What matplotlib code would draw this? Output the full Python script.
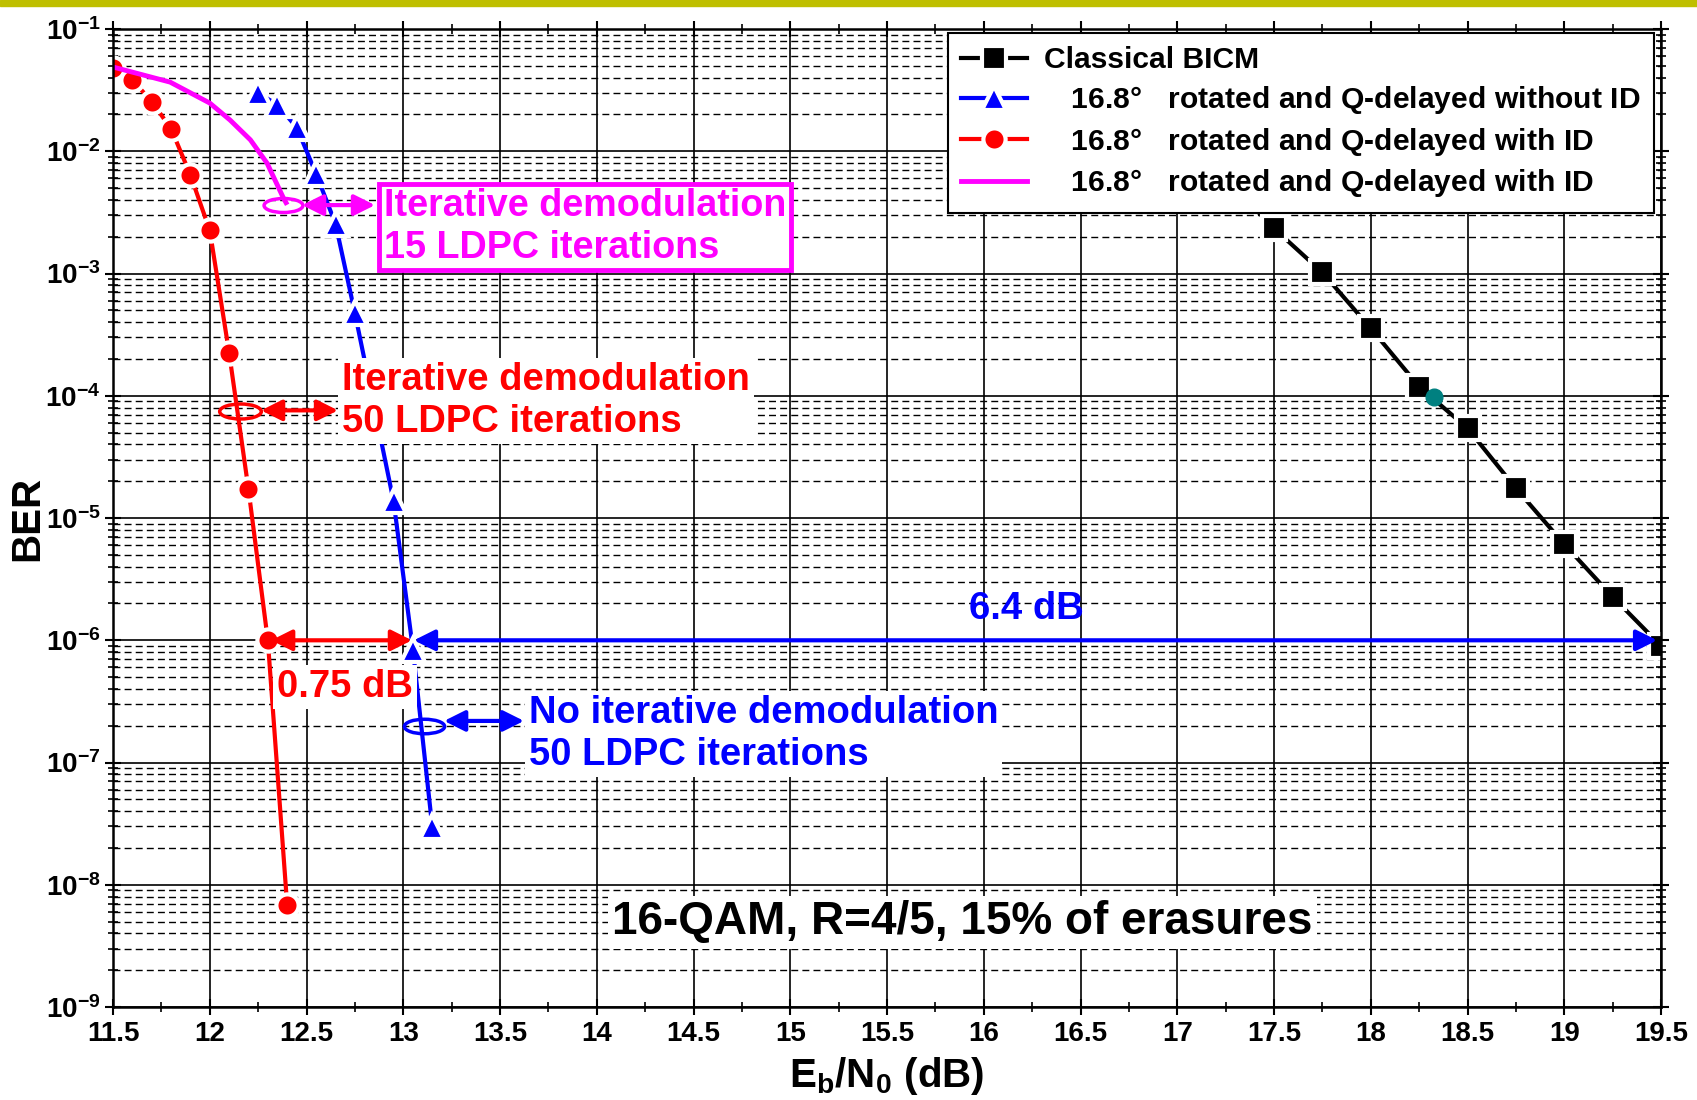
import numpy as np
import matplotlib
matplotlib.use('Agg')
import matplotlib.pyplot as plt
from matplotlib.path import Path
from matplotlib.transforms import Affine2D
from matplotlib.patches import Rectangle
from matplotlib.ticker import FuncFormatter, MultipleLocator, LogLocator, NullFormatter

plt.rcParams['font.family'] = ['Liberation Sans', 'DejaVu Sans']
plt.rcParams['font.weight'] = 'bold'
plt.rcParams['axes.labelweight'] = 'bold'
plt.rcParams['mathtext.fontset'] = 'custom'
plt.rcParams['mathtext.rm'] = 'Liberation Sans'
plt.rcParams['mathtext.bf'] = 'Liberation Sans:bold'
plt.rcParams['mathtext.it'] = 'Liberation Sans:bold:italic'

# --- data ---
ebn0_bicm = [17.25, 17.5, 17.75, 18.0, 18.25, 18.5, 18.75, 19.0, 19.25, 19.5]
ber_bicm = [6.0e-3, 2.34e-3, 1.02e-3, 3.56e-4, 1.19e-4, 5.42e-5, 1.75e-5, 6.1e-6, 2.27e-6, 9.0e-7]

ebn0_noid = [12.25, 12.35, 12.45, 12.55, 12.65, 12.75, 12.95, 13.05, 13.15]
ber_noid = [3.0e-2, 2.4e-2, 1.56e-2, 6.5e-3, 2.55e-3, 4.75e-4, 1.37e-5, 8.4e-7, 2.96e-8]

ebn0_id = [11.5, 11.6, 11.7, 11.8, 11.9, 12.0, 12.1, 12.2, 12.3, 12.4]
ber_id = [4.8e-2, 3.84e-2, 2.55e-2, 1.53e-2, 6.4e-3, 2.25e-3, 2.25e-4, 1.72e-5, 1.0e-6, 6.8e-9]

ebn0_id15 = [11.5, 11.795, 12.0, 12.105, 12.21, 12.296, 12.379, 12.394]
ber_id15 = [4.89e-2, 3.68e-2, 2.48e-2, 1.8e-2, 1.24e-2, 8.0e-3, 4.2e-3, 3.8e-3]

teal_point = (18.329, 9.7e-5)

# legend: "16.8°" in regular weight, the rest bold
labels = ['Classical BICM',
          r'$\quad\mathrm{16.8°}\quad\mathbf{rotated\ and\ Q}$-$\mathbf{delayed\ without\ ID}$',
          r'$\quad\mathrm{16.8°}\quad\mathbf{rotated\ and\ Q}$-$\mathbf{delayed\ with\ ID}$',
          r'$\quad\mathrm{16.8°}\quad\mathbf{rotated\ and\ Q}$-$\mathbf{delayed\ with\ ID}$']

x_ticks = [11.5, 12, 12.5, 13, 13.5, 14, 14.5, 15, 15.5, 16, 16.5, 17, 17.5, 18, 18.5, 19, 19.5]

fig = plt.figure(figsize=(16.97, 11.0), dpi=100)
fig.patches.append(Rectangle((0, 1 - 6 / 1100), 1, 6 / 1100, transform=fig.transFigure,
                             color='#BFBF00', zorder=0))
ax = fig.add_axes([0.0666, 0.0845, 0.9122, 0.8891])

mk = dict(markeredgecolor='white', markeredgewidth=3, lw=3)
l1, = ax.plot(ebn0_bicm, ber_bicm, color='black', marker='s', markersize=17, **mk)
l2, = ax.plot(ebn0_noid, ber_noid, color='#0000FF', marker='^', markersize=17, **mk)
l3, = ax.plot(ebn0_id, ber_id, color='#FF0000', marker='o', markersize=16, **mk)
l4, = ax.plot(ebn0_id15, ber_id15, color='#FF00FF', lw=3.5)
ax.plot(*teal_point, marker='o', color='#008080', markersize=12, ls='none')

ax.set_yscale('log')
ax.set_xlim(11.5, 19.5)
ax.set_ylim(1e-9, 1e-1)
ax.set_xticks(x_ticks)
ax.xaxis.set_minor_locator(MultipleLocator(0.25))
ax.xaxis.set_major_formatter(FuncFormatter(lambda v, p: '%g' % v))
ax.yaxis.set_major_locator(LogLocator(base=10, numticks=20))
ax.yaxis.set_minor_locator(LogLocator(base=10, subs=np.arange(2, 10), numticks=20))
ax.yaxis.set_major_formatter(FuncFormatter(lambda v, p: r'$\mathbf{10^{%d}}$' % round(np.log10(v))))
ax.yaxis.set_minor_formatter(NullFormatter())

ax.grid(True, which='major', axis='both', color='black', lw=1.2, ls='-')
ax.grid(True, which='minor', axis='y', color='black', lw=1.0, ls=(0, (5, 3)))
ax.tick_params(which='major', direction='inout', length=12, width=1.5, top=True, right=True,
               labelsize=20, pad=4)
ax.tick_params(axis='y', which='major', labelsize=20, pad=3)
ax.tick_params(which='minor', direction='inout', length=7, width=1.2, top=True, right=True)
for s in ax.spines.values():
    s.set_linewidth(1.8)

ax.set_xlabel(r'$\mathbf{E_b/N_0\ (dB)}$', fontsize=29, labelpad=6)
ax.set_ylabel('BER', fontsize=29, fontweight='bold')
ax.yaxis.set_label_coords(-0.043, 0.5)

leg = ax.legend([l1, l2, l3, l4], labels, loc='upper right', bbox_to_anchor=(0.9955, 0.996),
                fontsize=21.6, frameon=True, fancybox=False, edgecolor='black', framealpha=1,
                handlelength=2.2, handletextpad=0.55, labelspacing=0.32, borderpad=0.45,
                borderaxespad=0)
leg.get_frame().set_linewidth(1.5)

# annotations
ell = Path.unit_circle().transformed(Affine2D().scale(1, 0.36))
arrow_style = '<|-|>,head_length=0.7,head_width=0.35'


def double_arrow(x1, x2, y, color):
    ax.annotate('', xy=(x2, y), xytext=(x1, y),
                arrowprops=dict(arrowstyle=arrow_style, color=color, lw=3,
                                shrinkA=0, shrinkB=0, mutation_scale=18))


# magenta: 15 LDPC iterations
ax.plot(12.376, 3.63e-3, marker=ell, markersize=28, mfc='none', mec='#FF00FF', mew=2.5)
double_arrow(12.477, 12.854, 3.63e-3, '#FF00FF')
ax.text(12.90, 2.4e-3, 'Iterative demodulation\n15 LDPC iterations', color='#FF00FF',
        fontsize=27.2, va='center', ha='left', linespacing=1.2, zorder=6,
        bbox=dict(boxstyle='square,pad=0.12', fc='white', ec='#FF00FF', lw=3.5))

# red: 50 LDPC iterations with ID
ax.plot(12.156, 7.57e-5, marker=ell, markersize=30, mfc='none', mec='#FF0000', mew=2.5)
double_arrow(12.265, 12.663, 7.6e-5, '#FF0000')
ax.text(12.683, 9.05e-5, 'Iterative demodulation\n50 LDPC iterations', color='#FF0000',
        fontsize=27.5, va='center', ha='left', linespacing=1.2, zorder=6,
        bbox=dict(boxstyle='square,pad=0.1', fc='white', ec='none'))

# blue: without ID
ax.plot(13.107, 1.99e-7, marker=ell, markersize=29, mfc='none', mec='#0000FF', mew=2.5)
double_arrow(13.211, 13.624, 2.19e-7, '#0000FF')
ax.text(13.65, 1.71e-7, 'No iterative demodulation\n50 LDPC iterations', color='#0000FF',
        fontsize=27.5, va='center', ha='left', linespacing=1.2, zorder=6,
        bbox=dict(boxstyle='square,pad=0.1', fc='white', ec='none'))

# gains at 1e-6
double_arrow(12.317, 13.045, 1e-6, '#FF0000')
double_arrow(13.055, 19.48, 1e-6, '#0000FF')
ax.text(12.70, 4.15e-7, '0.75 dB', color='#FF0000', fontsize=27.5, ha='center', va='center',
        zorder=6, bbox=dict(boxstyle='square,pad=0.1', fc='white', ec='none'))
ax.text(16.22, 1.8e-6, '6.4 dB', color='#0000FF', fontsize=27.5, ha='center', va='center', zorder=6)

ax.text(15.89, 4.95e-9, '16-QAM, R=4/5, 15% of erasures', color='black', fontsize=33,
        ha='center', va='center', zorder=6,
        bbox=dict(boxstyle='square,pad=0.1', fc='white', ec='none'))

fig.savefig('out.png', dpi=100)
